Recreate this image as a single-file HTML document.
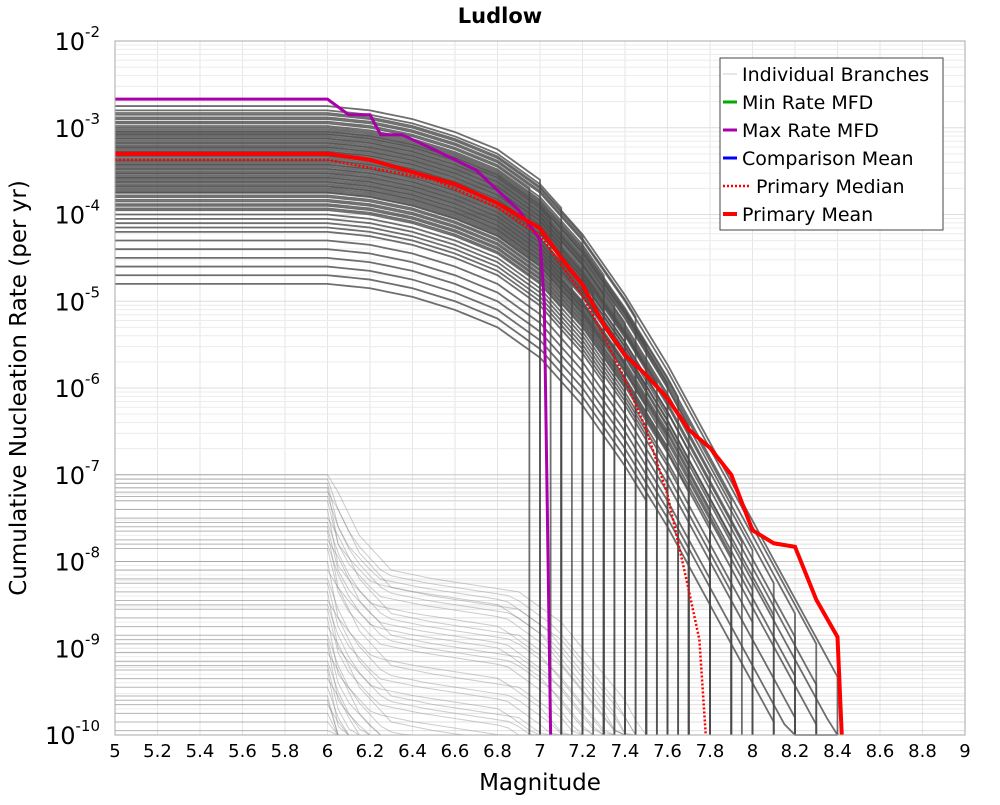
<!DOCTYPE html>
<html><head><meta charset="utf-8">
<style>
body{margin:0;background:#fff;width:1000px;height:800px;overflow:hidden;font-family:"Liberation Sans","DejaVu Sans",sans-serif}
svg text{font-family:"DejaVu Sans","Liberation Sans",sans-serif}
</style></head><body>
<svg id="chart" width="1000" height="800" viewBox="0 0 1000 800" xmlns="http://www.w3.org/2000/svg">
<rect width="1000" height="800" fill="#fff"/>
<text x="500" y="23" text-anchor="middle" font-size="21" font-weight="bold">Ludlow</text>
<g id="grid"></g>
<g id="branches"></g>
<g id="series"></g>
<rect x="115" y="41" width="850" height="694" fill="none" stroke="#aaa" stroke-width="1"/>
<g id="axes"></g>
<text x="540" y="790" text-anchor="middle" font-size="23">Magnitude</text>
<text transform="translate(26,388) rotate(-90)" text-anchor="middle" font-size="23">Cumulative Nucleation Rate (per yr)</text>
<g>
<rect x="720" y="58" width="223" height="172" fill="#fff" stroke="#444" stroke-width="1"/>
<g><line x1="723" x2="737" y1="74" y2="74" stroke="#ccc" stroke-width="1"/><text x="742" y="81" font-size="19">Individual Branches</text></g>
<g><line x1="723" x2="737" y1="102" y2="102" stroke="#0a0" stroke-width="3"/><text x="742" y="109" font-size="19">Min Rate MFD</text></g>
<g><line x1="723" x2="737" y1="130" y2="130" stroke="#a0a" stroke-width="3"/><text x="742" y="137" font-size="19">Max Rate MFD</text></g>
<g><line x1="723" x2="737" y1="158" y2="158" stroke="#00f" stroke-width="3"/><text x="742" y="165" font-size="19">Comparison Mean</text></g>
<g><line x1="723" x2="751" y1="186" y2="186" stroke="#f00" stroke-width="2.5" stroke-dasharray="2,2"/><text x="756" y="193" font-size="19">Primary Median</text></g>
<g><line x1="723" x2="737" y1="214" y2="214" stroke="#f00" stroke-width="4"/><text x="742" y="221" font-size="19">Primary Mean</text></g>
</g>
</svg>
<script>
// ---- data ----
const xTicks=[5,5.2,5.4,5.6,5.8,6,6.2,6.4,6.6,6.8,7,7.2,7.4,7.6,7.8,8,8.2,8.4,8.6,8.8,9];
const yDecades=[-2,-3,-4,-5,-6,-7,-8,-9,-10];
const maxMags=[5,6,6.1,6.2,6.25,6.35,6.5,6.7,6.8,6.9,7.0,7.02,7.05];
const maxLogs=[-2.67,-2.67,-2.85,-2.85,-3.08,-3.08,-3.25,-3.49,-3.72,-3.95,-4.29,-5.0,-10];
const meanMags=[5,6,6.2,6.4,6.6,6.8,7.0,7.1,7.2,7.3,7.4,7.5,7.6,7.7,7.8,7.9,8.0,8.1,8.2,8.3,8.4,8.42];
const meanLogs=[-3.30,-3.30,-3.37,-3.51,-3.65,-3.87,-4.16,-4.50,-4.81,-5.27,-5.62,-5.85,-6.12,-6.48,-6.69,-7.00,-7.64,-7.79,-7.83,-8.44,-8.87,-10];
const medMags=[5,6,6.5,6.8,7.0,7.1,7.2,7.3,7.4,7.5,7.6,7.7,7.75,7.78];
const medLogs=[-3.37,-3.37,-3.6,-3.92,-4.24,-4.58,-4.93,-5.4,-5.9,-6.48,-7.23,-8.33,-8.9,-10];
// individual branch: rate at M5 (log10) and max magnitude
const branchLogs=[-2.75,-2.8,-2.83,-2.85,-2.88,-2.9,-2.93,-2.95,-2.98,-3.0,-3.02,-3.04,-3.05,-3.07,-3.08,-3.1,-3.12,-3.13,-3.15,-3.17,-3.18,-3.2,-3.22,-3.23,-3.25,-3.27,-3.28,-3.3,-3.32,-3.33,-3.35,-3.37,-3.38,-3.4,-3.42,-3.43,-3.45,-3.47,-3.48,-3.5,-3.52,-3.53,-3.55,-3.57,-3.58,-3.6,-3.62,-3.63,-3.65,-3.67,-3.68,-3.7,-3.72,-3.74,-3.75,-3.78,-3.8,-3.83,-3.85,-3.88,-3.9,-3.93,-3.95,-4.0,-4.05,-4.1,-4.15,-4.2,-4.3,-4.4,-4.5,-4.6,-4.7,-4.8];
const branchMaxMags=[7.0,7.1,8.4,7.2,7.45,8.3,6.95,7.3,7.65,8.2,7.5,7.9,7.6,7.05,7.7,8.1,7.35,7.2,7.4,8.0,7.3,7.8,7.1,7.55,7.6,8.2,7.5,7.95,7.4,7.25,7.3,8.3,7.7,7.0,7.6,7.45,7.2,8.1,7.9,7.5,7.3,8.4,7.7,7.15,7.1,7.8,7.4,8.0,7.6,7.2,7.9,7.5,8.2,7.35,7.3,7.8,7.6,8.3,7.7,7.55,7.4,7.1,7.65,8.0,7.5,7.9,7.3,8.2,7.6,7.8,8.4,7.7,8.1,7.5];
const shapeMags=[6,6.2,6.4,6.6,6.8,7.0,7.2,7.4,7.6,7.8,8.0,8.2,8.4,8.6];
const shapeDrops=[0,-0.05,-0.15,-0.3,-0.5,-0.85,-1.4,-2.1,-2.9,-3.8,-4.7,-5.6,-6.5,-7.4];
const lowLogs=[-7.0,-7.05,-7.1,-7.15,-7.2,-7.25,-7.3,-7.4,-7.5,-7.55,-7.6,-7.65,-7.75,-7.8,-7.85,-8.0,-8.1,-8.2,-8.25,-8.35,-8.45,-8.5,-8.55,-8.65,-8.75,-8.85,-8.9,-8.95,-9.05,-9.15,-9.2,-9.25,-9.35,-9.45,-9.55,-9.6,-9.65,-9.75,-9.85,-9.95];
const lowShapeMags=[6,6.05,6.15,6.3,6.5,6.9,7.1,7.4,7.7];
const lowShapeDrops=[0,-0.2,-0.7,-1.1,-1.2,-1.35,-1.7,-2.6,-4];
// ---- axes ----
const X=m=>115+(m-5)*212.5;
const Y=l=>41+(-2-l)*86.75;
const NS='http://www.w3.org/2000/svg';
function mk(tag,attrs,parent){const e=document.createElementNS(NS,tag);for(const k in attrs)e.setAttribute(k,attrs[k]);parent.appendChild(e);return e;}
function interp(xs,ys,x){if(x<=xs[0])return ys[0];for(let i=1;i<xs.length;i++){if(x<=xs[i]){const t=(x-xs[i-1])/(xs[i]-xs[i-1]);return ys[i-1]+t*(ys[i]-ys[i-1]);}}return ys[ys.length-1];}
const grid=document.getElementById('grid'),axes=document.getElementById('axes'),br=document.getElementById('branches'),se=document.getElementById('series');
xTicks.forEach(t=>{
 const l=mk('line',{x1:X(t),x2:X(t),y1:41,y2:735,stroke:'#e6e6e6'},grid);
 
 const tx=mk('text',{x:X(t),y:757,'text-anchor':'middle','font-size':18},axes);tx.textContent=String(t);
 
});
yDecades.forEach(d=>{
 for(let k=1;k<10;k++){const l=d+Math.log10(k);if(l>-2||l<-10)continue;
  const g=mk('line',{x1:115,x2:965,y1:Y(l),y2:Y(l),stroke:k==1?'#ddd':'#ececec'},grid);
  }
 const t=mk('text',{x:100,y:Y(d)+9,'text-anchor':'end','font-size':24},axes);
 
 t.appendChild(document.createTextNode('10'));
 const s=mk('tspan',{'font-size':15,dy:-13},t);s.textContent=String(d);
});
// low branches
lowLogs.forEach((lv,i)=>{
 const h=mk('line',{x1:115,x2:965,y1:Y(lv),y2:Y(lv),stroke:'rgba(150,150,150,0.3)','stroke-width':1},br);
 
 const pts=[];for(let m=5;m<=7.8;m+=0.05){const l=m<6?lv:lv+interp(lowShapeMags,lowShapeDrops,m+(i%4)*0.03);pts.push(X(m)+','+Y(Math.max(l,-10)));}
 const p=mk('polyline',{points:pts.join(' '),fill:'none',stroke:'rgba(110,110,110,0.35)','stroke-width':1},br);
 
});
// upper branches
branchLogs.forEach((lv,i)=>{
 const mm=branchMaxMags[i];const pts=[];
 for(let m=5;m<=mm+1e-6;m+=0.05){const l=lv+interp(shapeMags,shapeDrops,m);pts.push(X(m)+','+Y(Math.max(l,-10)));}
 const l=lv+interp(shapeMags,shapeDrops,mm);pts.push(X(mm)+','+Y(Math.max(l,-10)));pts.push(X(mm)+','+Y(-10));
 const p=mk('polyline',{points:pts.join(' '),fill:'none',stroke:'rgba(75,75,75,0.8)','stroke-width':1.8},br);
 
});
function series(ms,ls,attrs,name){const pts=ms.map((m,i)=>X(m)+','+Y(ls[i])).join(' ');const p=mk('polyline',Object.assign({points:pts,fill:'none'},attrs),se);}
series(maxMags,maxLogs,{stroke:'#a0a','stroke-width':3},'max-rate-mfd');
series(medMags,medLogs,{stroke:'#f00','stroke-width':2.5,'stroke-dasharray':'2,2'},'primary-median');
series(meanMags,meanLogs,{stroke:'#f00','stroke-width':4},'primary-mean');
</script>
</body></html>
